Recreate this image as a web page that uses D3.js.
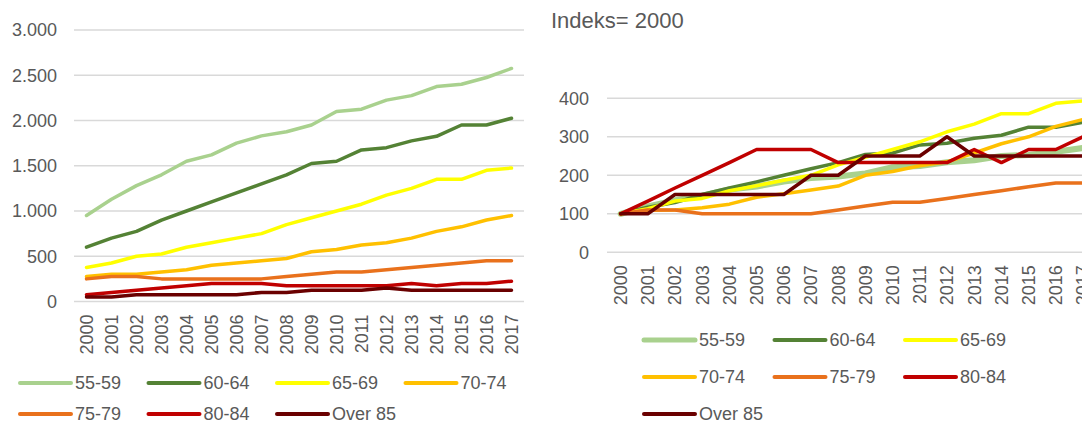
<!DOCTYPE html>
<html>
<head>
<meta charset="utf-8">
<script src="https://cdn.jsdelivr.net/npm/d3@7"></script>
<style>
body { margin: 0; background: #fff; }
svg { display: block; font-family: "Liberation Sans", Arial, sans-serif; }
</style>
</head>
<body>
<svg id="chart" width="1082" height="425"></svg>
<script>
var years = ["2000", "2001", "2002", "2003", "2004", "2005", "2006", "2007", "2008", "2009", "2010", "2011", "2012", "2013", "2014", "2015", "2016", "2017"];
var groups = ["55-59", "60-64", "65-69", "70-74", "75-79", "80-84", "Over 85"];
var colors = ["#A9D18E", "#548235", "#FFFF00", "#FFC000", "#E9711C", "#C00000", "#6A0000"];

// absolute numbers (left chart)
var abs5559 = [950, 1130, 1280, 1400, 1550, 1620, 1750, 1830, 1875, 1950, 2100, 2125, 2225, 2275, 2375, 2400, 2475, 2575];
var abs6064 = [600, 700, 775, 900, 1000, 1100, 1200, 1300, 1400, 1525, 1550, 1675, 1700, 1775, 1825, 1950, 1950, 2025];
var abs6569 = [375, 425, 500, 525, 600, 650, 700, 750, 850, 925, 1000, 1075, 1175, 1250, 1350, 1350, 1450, 1475];
var abs7074 = [275, 300, 300, 325, 350, 400, 425, 450, 475, 550, 575, 625, 650, 700, 775, 825, 900, 950];
var abs7579 = [250, 275, 275, 250, 250, 250, 250, 250, 275, 300, 325, 325, 350, 375, 400, 425, 450, 450];
var abs8084 = [75, 100, 125, 150, 175, 200, 200, 200, 175, 175, 175, 175, 175, 200, 175, 200, 200, 225];
var absOver85 = [50, 50, 75, 75, 75, 75, 75, 100, 100, 125, 125, 125, 150, 125, 125, 125, 125, 125];

// index 2000 = 100 (right chart)
var idx5559 = [100, 119, 135, 147, 163, 171, 184, 193, 197, 205, 221, 224, 234, 239, 250, 253, 261, 271];
var idx6064 = [100, 117, 129, 150, 167, 183, 200, 217, 233, 254, 258, 279, 283, 296, 304, 325, 325, 338];
var idx6569 = [100, 113, 133, 140, 160, 173, 187, 200, 227, 247, 267, 287, 313, 333, 360, 360, 387, 393];
var idx7074 = [100, 109, 110, 116, 125, 143, 152, 162, 172, 200, 210, 225, 235, 258, 282, 300, 327, 345];
var idx7579 = [100, 110, 110, 100, 100, 100, 100, 100, 110, 120, 130, 130, 140, 150, 160, 170, 180, 180];
var idx8084 = [100, 133, 167, 200, 233, 267, 267, 267, 233, 233, 233, 233, 233, 267, 233, 267, 267, 300];
var idxOver85 = [100, 100, 150, 150, 150, 150, 150, 200, 200, 250, 250, 250, 300, 250, 250, 250, 250, 250];

var leftTicks = [0, 500, 1000, 1500, 2000, 2500, 3000];
var rightTicks = [0, 100, 200, 300, 400];
var rightTitle = "Indeks= 2000";

var absSeries = [abs5559, abs6064, abs6569, abs7074, abs7579, abs8084, absOver85];
var idxSeries = [idx5559, idx6064, idx6569, idx7074, idx7579, idx8084, idxOver85];

var svg = d3.select("#chart");
var textCol = "#595959";
var fmt = function (d) { return d3.format(",")(d).replace(/,/g, "."); };

function drawPanel (cfg) {
	var g = svg.append("g");
	var x = d3.scaleBand().domain(years).range([cfg.x0, cfg.x1]);
	var y = d3.scaleLinear().domain(cfg.domain).range([cfg.y0, cfg.y1]);
	var px = function (d, i) { return x(years[i]) + x.bandwidth() / 2; };

	g.append("g").selectAll("line").data(cfg.ticks).join("line")
		.attr("x1", cfg.x0).attr("x2", cfg.gridEnd)
		.attr("y1", function (d) { return y(d); }).attr("y2", function (d) { return y(d); })
		.attr("stroke", "#D9D9D9").attr("stroke-width", 1.5);

	g.append("g").selectAll("text").data(cfg.ticks).join("text")
		.attr("x", cfg.labelX).attr("y", function (d) { return y(d); }).attr("dy", "0.35em")
		.attr("text-anchor", "end").attr("font-size", "18px").attr("fill", textCol)
		.text(cfg.format);

	g.append("g").selectAll("text").data(years).join("text")
		.attr("transform", function (d) { return "translate(" + (x(d) + x.bandwidth() / 2) + "," + (cfg.y0 + 13) + ") rotate(-90)"; })
		.attr("dy", "0.35em").attr("text-anchor", "end")
		.attr("font-size", "18px").attr("fill", textCol)
		.text(function (d) { return d; });

	var line = d3.line().x(px).y(function (d) { return y(d); });
	g.append("g").selectAll("path").data(cfg.series).join("path")
		.attr("d", line).attr("fill", "none")
		.attr("stroke", function (d, i) { return colors[i]; })
		.attr("stroke-width", function (d, i) { return cfg.widths[i]; })
		.attr("stroke-linejoin", "round").attr("stroke-linecap", "round");
}

drawPanel({
	x0: 74, x1: 524, gridEnd: 524, y0: 301.5, y1: 30, domain: [0, 3000],
	ticks: leftTicks, labelX: 57, format: fmt, series: absSeries,
	widths: [3.5, 3.5, 3.5, 3.5, 3.5, 3.5, 3.5]
});

drawPanel({
	x0: 607, x1: 607 + 18 * 27.2, gridEnd: 1082, y0: 252.3, y1: 98.3, domain: [0, 400],
	ticks: rightTicks, labelX: 589, format: function (d) { return d; }, series: idxSeries,
	widths: [6, 3.5, 3.5, 3.5, 3.5, 3.5, 3.5]
});

svg.append("text").attr("x", 551).attr("y", 28)
	.attr("font-size", "22px").attr("fill", textCol).text(rightTitle);

function drawLegend (left, top, colW, rowH, perRow, widths) {
	var items = svg.append("g").selectAll("g").data(groups).join("g")
		.attr("transform", function (d, i) {
			return "translate(" + (left + (i % perRow) * colW) + "," + (top + Math.floor(i / perRow) * rowH) + ")";
		});
	items.append("line").attr("x1", 2).attr("x2", 53).attr("y1", 0).attr("y2", 0)
		.attr("stroke", function (d, i) { return colors[i]; })
		.attr("stroke-width", function (d, i) { return widths[i]; })
		.attr("stroke-linecap", "round");
	items.append("text").attr("x", 57).attr("y", 0).attr("dy", "0.35em")
		.attr("font-size", "18px").attr("fill", textCol)
		.text(function (d) { return d; });
}

drawLegend(18, 383, 128.5, 31, 4, [4, 4, 4, 4, 4, 4, 4]);
drawLegend(642, 340, 130.5, 37, 3, [5, 4, 4, 4, 4, 4, 4]);
</script>
</body>
</html>
